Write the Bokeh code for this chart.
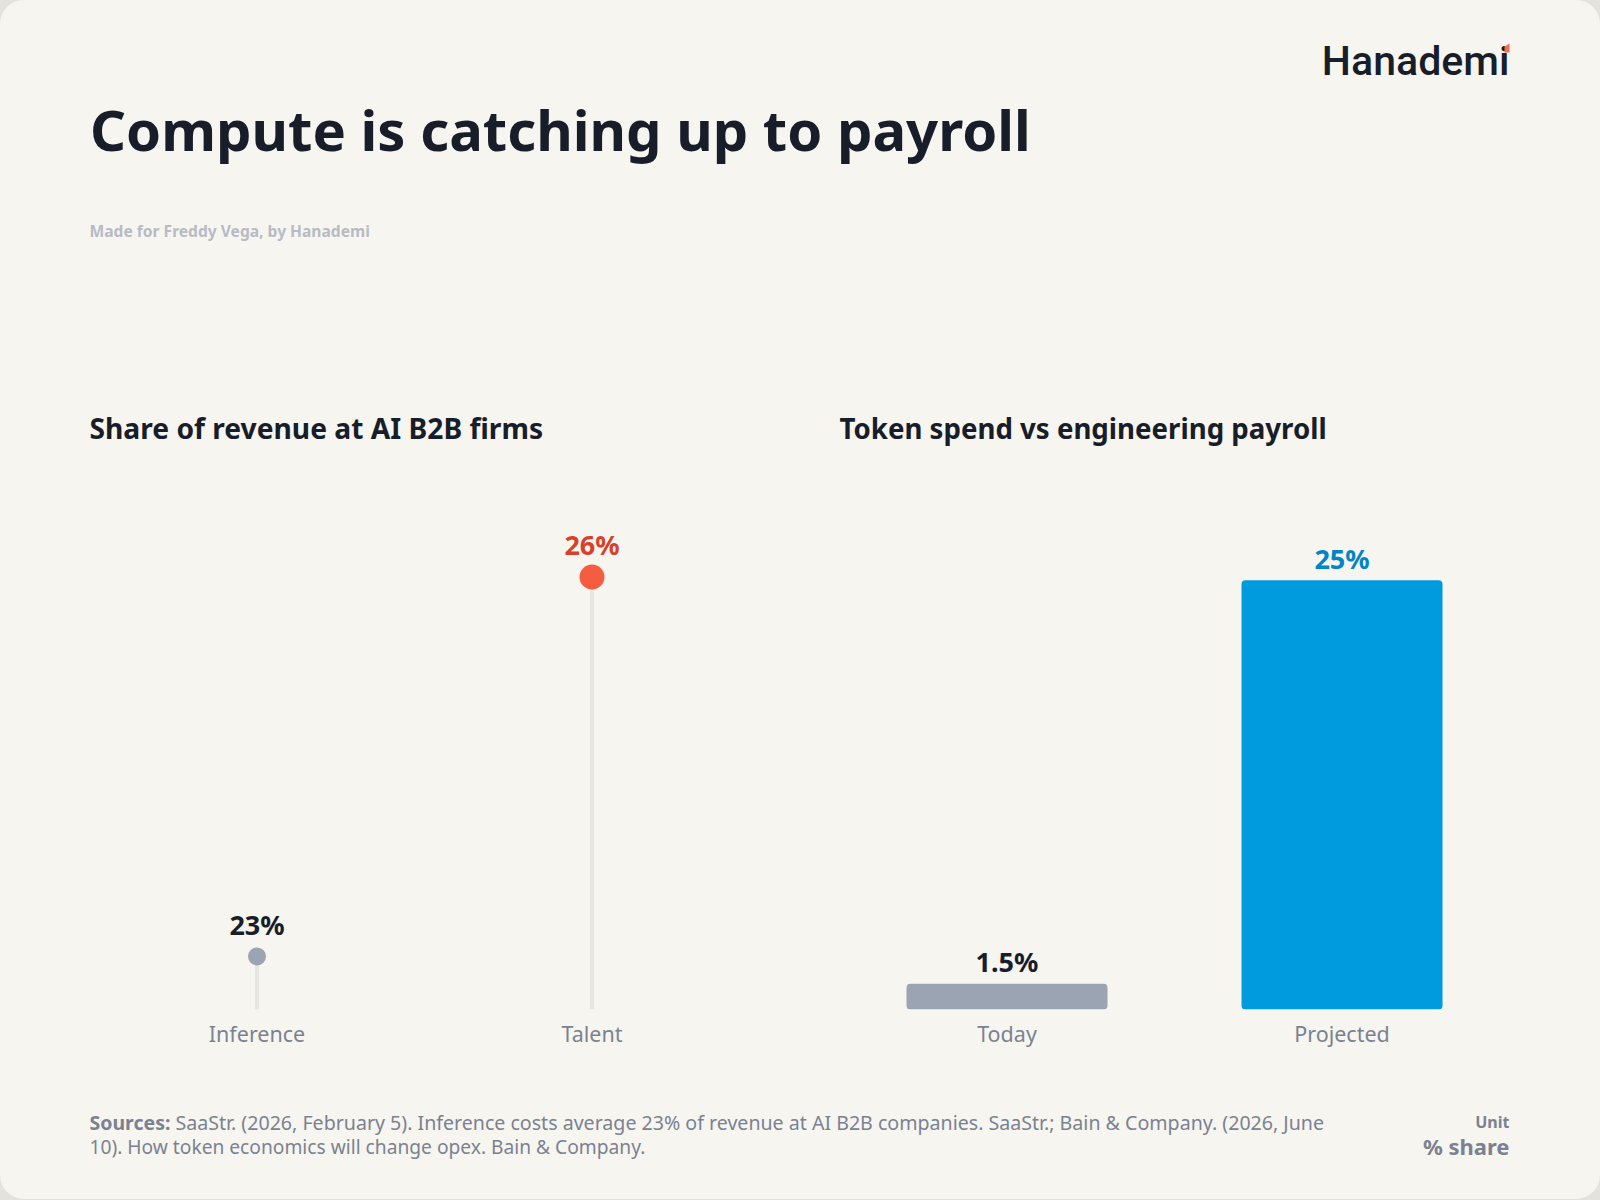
from bokeh.core.properties import value
from bokeh.embed import file_html
from bokeh.resources import INLINE
from bokeh.plotting import figure
from bokeh.layouts import column, row
from bokeh.models import (ColumnDataSource, FactorRange, Range1d, Label,
                          PolyAnnotation, GlobalInlineStyleSheet)

# ---- data ----
left_categories = ["Inference", "Talent"]
left_values = [23, 26]
left_labels = ["23%", "26%"]
right_categories = ["Today", "Projected"]
right_values = [1.5, 25]
right_labels = ["1.5%", "25%"]

# ---- styles ----
FONT = "Noto Sans"
LOGO = "Roboto Medium"
CARD = "#F7F5F0"
PAGE = "#E4E2DD"
INK = "#181D2A"
MUTED = "#7A8292"
left_dot_colors = ["#9AA4B2", "#F45D3F"]
left_dot_sizes = [18, 25]
left_text_colors = [INK, "#D9402A"]
right_bar_colors = ["#9AA4B2", "#009ADE"]
right_text_colors = [INK, "#0284C7"]
LEFT_Y = (22.58, 27.0)
RIGHT_Y = (0, 32.56)


def page_figure(w, h, y0, y1):
    f = figure(width=w, height=h, x_range=Range1d(0, w), y_range=Range1d(y1, y0),
               x_axis_location=None, y_axis_location=None, toolbar_location=None,
               output_backend="svg", min_border=0,
               background_fill_color=None, border_fill_color=None,
               outline_line_color=None, tools="")
    f.grid.visible = False
    return f


def text(f, x, y, s, size, color, style="normal", align="left", font=FONT):
    f.add_layout(Label(x=x, y=y, text=s, text_font=font, text_font_size=f"{size}px",
                       text_font_style=style, text_color=color, text_align=align,
                       text_baseline="middle"))


def panel(cats, title, title_size, border_left, border_right, y_lim):
    f = figure(width=800, height=680, x_range=FactorRange(factors=cats),
               y_range=Range1d(*y_lim), toolbar_location=None, output_backend="svg",
               tools="", min_border_left=border_left, min_border_right=border_right,
               min_border_top=50, min_border_bottom=71,
               background_fill_color=None, border_fill_color=None,
               outline_line_color=None, title=title)
    f.title.text_font = FONT
    f.title.text_font_size = f"{title_size}px"
    f.title.text_font_style = "bold"
    f.title.text_color = INK
    f.title.align = "left"
    f.title.offset = 0
    f.title.standoff = 7
    f.grid.visible = False
    f.yaxis.visible = False
    ax = f.xaxis[0]
    ax.axis_line_color = None
    ax.major_tick_line_color = None
    ax.minor_tick_line_color = None
    ax.major_label_text_font = FONT
    ax.major_label_text_font_size = "21.5px"
    ax.major_label_text_color = MUTED
    ax.major_label_standoff = 3
    return f


# ---- header ----
header = page_figure(1600, 400, 0, 400)
text(header, 89.5, 128.5, "Compute is catching up to payroll", 56.2, INK, "bold")
text(header, 89, 230, "Made for Freddy Vega, by Hanademi", 15.6, "#B8BBC4", "bold")
text(header, 1509, 60, "Hanademi", 41, INK, align="right", font=LOGO)
header.add_layout(PolyAnnotation(xs=[1504, 1509, 1509, 1504], ys=[46, 43, 52, 52],
                                 fill_color="#F2704F", fill_alpha=1, line_color=None))

# ---- left panel ----
left = panel(left_categories, "Share of revenue at AI B2B firms", 28.2, 89, 41, LEFT_Y)
src_l = ColumnDataSource(dict(x=left_categories, y=left_values,
                              base=[LEFT_Y[0]] * len(left_values), label=left_labels,
                              dot=left_dot_colors, size=left_dot_sizes, tc=left_text_colors))
left.segment(x0="x", y0="base", x1="x", y1="y", source=src_l, line_color="#E7E6E1", line_width=4)
left.scatter(x="x", y="y", size="size", fill_color="dot", line_color=None, source=src_l)
left.text(x="x", y="y", text="label", source=src_l, y_offset=-32, text_align="center",
          text_baseline="middle", text_font=value(FONT), text_font_size=value("27px"),
          text_font_style="bold", text_color="tc")

# ---- right panel ----
right = panel(right_categories, "Token spend vs engineering payroll", 27.65, 39, 91, RIGHT_Y)
src_r = ColumnDataSource(dict(x=right_categories, y=right_values, label=right_labels,
                              bar=right_bar_colors, tc=right_text_colors))
right.vbar(x="x", top="y", bottom=0, width=0.6, fill_color="bar", line_color=None,
           border_radius=4, source=src_r)
right.text(x="x", y="y", text="label", source=src_r, y_offset=-22, text_align="center",
           text_baseline="middle", text_font=value(FONT), text_font_size=value("27px"),
           text_font_style="bold", text_color="tc")

# ---- footer ----
footer = page_figure(1600, 119, 1080, 1199)
text(footer, 89, 1121.5, "Sources:", 19.5, MUTED, "bold")
text(footer, 175, 1121.5, "SaaStr. (2026, February 5). Inference costs average 23% of revenue at AI B2B companies. SaaStr.; Bain & Company. (2026, June", 19.6, MUTED)
text(footer, 89, 1146, "10). How token economics will change opex. Bain & Company.", 19.2, MUTED)
text(footer, 1509, 1121, "Unit", 16, MUTED, "bold", "right")
text(footer, 1509, 1145, "% share", 22, MUTED, "bold", "right")

p = column(header, row(left, right, spacing=0), footer, spacing=0,
           styles={"background": CARD, "border-radius": "24px", "overflow": "hidden"},
           stylesheets=[GlobalInlineStyleSheet(css=f"html,body{{margin:0;padding:0;background:{PAGE};overflow:hidden}}")])

open("out.html", "w").write(file_html(p, INLINE))
